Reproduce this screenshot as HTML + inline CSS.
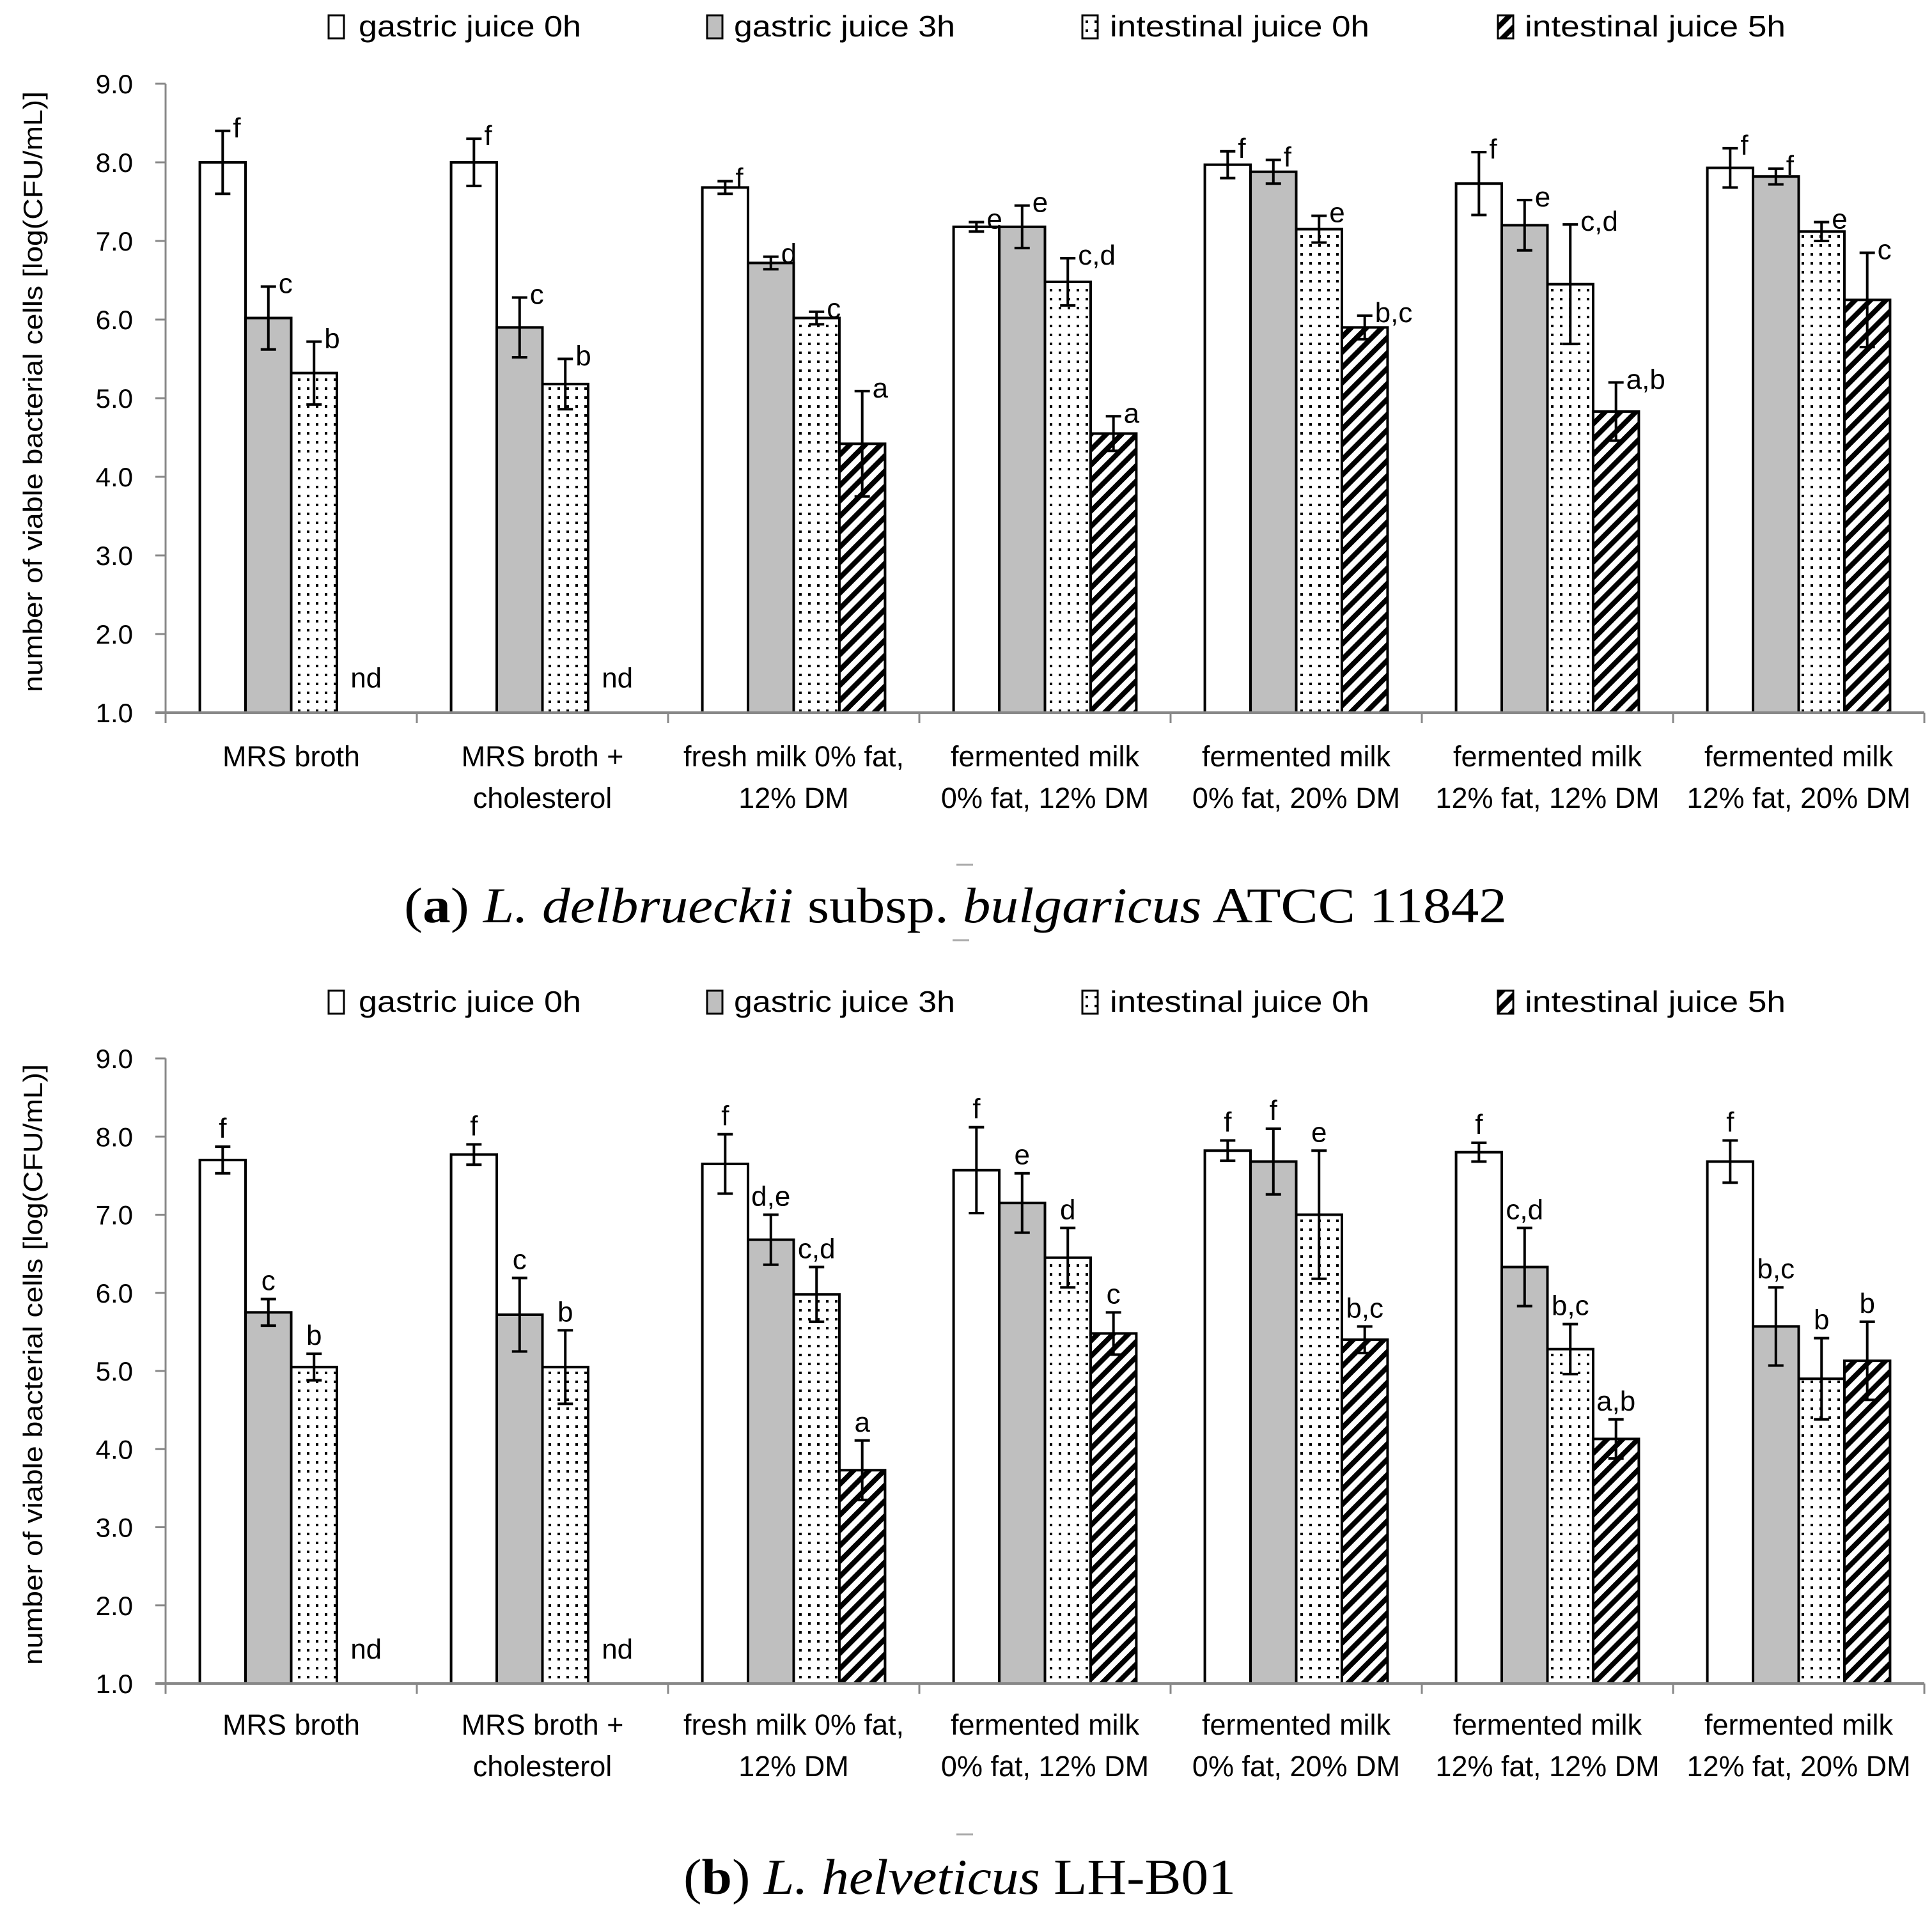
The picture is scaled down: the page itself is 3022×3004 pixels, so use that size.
<!DOCTYPE html>
<html><head><meta charset="utf-8">
<style>
html,body{margin:0;padding:0;background:#fff;}
svg{display:block;}
.nar{font-family:"Liberation Sans Narrow","Liberation Sans",sans-serif;}
</style></head>
<body>
<svg id="fig" xmlns="http://www.w3.org/2000/svg" width="3022" height="3004" viewBox="0 0 3022 3004">
<defs>
<pattern id="dots" width="14" height="14" patternUnits="userSpaceOnUse">
<rect width="14" height="14" fill="#fff"/>
<rect x="4" y="4" width="4" height="4" fill="#000"/>
</pattern>
<pattern id="hatch" width="17" height="17" patternUnits="userSpaceOnUse" patternTransform="rotate(45)">
<rect width="17" height="17" fill="#fff"/>
<rect x="0" y="0" width="8" height="17" fill="#000"/>
</pattern>
</defs>
<g id="chartA"></g>
<g id="chartB"></g>
<text x="632" y="1443" font-family="Liberation Serif, serif" font-size="78" textLength="1725" lengthAdjust="spacingAndGlyphs">(<tspan font-weight="bold">a</tspan>) <tspan font-style="italic">L. delbrueckii</tspan> subsp. <tspan font-style="italic">bulgaricus</tspan> ATCC 11842</text>
<text x="1069" y="2963" font-family="Liberation Serif, serif" font-size="78" textLength="864" lengthAdjust="spacingAndGlyphs">(<tspan font-weight="bold">b</tspan>) <tspan font-style="italic">L. helveticus</tspan> LH-B01</text>
<line x1="1496" y1="1353" x2="1522" y2="1353" stroke="#aaa" stroke-width="3"/>
<line x1="1490" y1="1471" x2="1516" y2="1471" stroke="#aaa" stroke-width="3"/>
<line x1="1496" y1="2870" x2="1522" y2="2870" stroke="#aaa" stroke-width="3"/>
</svg>
<script>
const categories = [["MRS broth",""],["MRS broth +","cholesterol"],["fresh milk 0% fat,","12% DM"],["fermented milk","0% fat, 12% DM"],["fermented milk","0% fat, 20% DM"],["fermented milk","12% fat, 12% DM"],["fermented milk","12% fat, 20% DM"]];
const seriesNames = ["gastric juice 0h","gastric juice 3h","intestinal juice 0h","intestinal juice 5h"];
const yTicks = [1,2,3,4,5,6,7,8,9];
// Chart A values (null = nd)
const aG0 = [8.0,8.0,7.68,7.18,7.97,7.73,7.93];
const aG3 = [6.02,5.9,6.72,7.18,7.88,7.2,7.82];
const aI0 = [5.32,5.18,6.02,6.48,7.15,6.45,7.12];
const aI5 = [null,null,4.42,4.55,5.9,4.83,6.25];
const aErrG0 = [0.4,0.3,0.08,0.06,0.17,0.4,0.25];
const aErrG3 = [0.4,0.38,0.08,0.27,0.15,0.32,0.1];
const aErrI0 = [0.4,0.32,0.08,0.3,0.17,0.76,0.12];
const aErrI5 = [0,0,0.67,0.22,0.15,0.37,0.6];
const aLabG0 = ["f","f","f","e","f","f","f"];
const aLabG3 = ["c","c","d","e","f","e","f"];
const aLabI0 = ["b","b","c","c,d","e","c,d","e"];
const aLabI5 = ["nd","nd","a","a","b,c","a,b","c"];
// Chart B values
const bG0 = [7.7,7.77,7.65,7.57,7.82,7.8,7.68];
const bG3 = [5.75,5.72,6.68,7.15,7.68,6.33,5.57];
const bI0 = [5.05,5.05,5.98,6.45,7.0,5.28,4.9];
const bI5 = [null,null,3.73,5.48,5.4,4.13,5.13];
const bErrG0 = [0.17,0.13,0.38,0.55,0.13,0.12,0.27];
const bErrG3 = [0.17,0.47,0.32,0.38,0.42,0.5,0.5];
const bErrI0 = [0.17,0.47,0.35,0.38,0.82,0.32,0.52];
const bErrI5 = [0,0,0.38,0.27,0.17,0.25,0.5];
const bLabG0 = ["f","f","f","f","f","f","f"];
const bLabG3 = ["c","c","d,e","e","f","c,d","b,c"];
const bLabI0 = ["b","b","c,d","d","e","b,c","b"];
const bLabI5 = ["nd","nd","a","c","b,c","a,b","b"];

const NS="http://www.w3.org/2000/svg";
function mk(tag, attrs, parent){const e=document.createElementNS(NS,tag);for(const k in attrs)e.setAttribute(k,attrs[k]);parent.appendChild(e);return e;}

function drawChart(g, cfg, vals, errs, labs, labelMode){
  const x0=259, x1=3010, catW=(x1-x0)/categories.length, barW=catW/5.5, gap=barW*0.75;
  const yScale=v=>cfg.yBottom-(v-1)*(cfg.yBottom-cfg.yTop)/8;
  const fills=["#fff","#bfbfbf","url(#dots)","url(#hatch)"];
  const legX=[514,1106,1693,2343], legT=[561,1148,1736,2385], legW=[348,346,406,408];
  seriesNames.forEach((n,i)=>{
    const r=mk('rect',{x:legX[i],y:cfg.legY-18,width:24,height:36,fill:fills[i],stroke:"#000","stroke-width":3},g);
    
    
    const t=mk('text',{x:legT[i],y:cfg.legY+15,"font-size":46,class:"nar",textLength:legW[i],lengthAdjust:"spacingAndGlyphs"},g);
    t.textContent=n;
    
    
  });
  const ax=mk('line',{x1:x0,y1:cfg.yTop,x2:x0,y2:cfg.yBottom+16,stroke:"#888","stroke-width":3},g);
  
  
  yTicks.forEach(v=>{
    const y=yScale(v);
    mk('line',{x1:x0-16,y1:y,x2:x0,y2:y,stroke:"#888","stroke-width":3},g);
    const t=mk('text',{x:208,y:y+15,"font-size":42,"text-anchor":"end",class:"nar"},g);
    t.textContent=v.toFixed(1);
    
    
  });
  const yt=mk('text',{x:0,y:0,"font-size":42,"text-anchor":"middle","font-family":"Liberation Sans, sans-serif",textLength:940,lengthAdjust:"spacingAndGlyphs",transform:`translate(66,${(cfg.yTop+cfg.yBottom)/2-10}) rotate(-90)`},g);
  yt.textContent="number of viable bacterial cells [log(CFU/mL)]";
  
  
  categories.forEach((c,ci)=>{
    const cx0=x0+ci*catW;
    for(let s=0;s<4;s++){
      const v=vals[s][ci];
      const bx=cx0+gap+s*barW, bc=bx+barW/2;
      if(v===null){
        const t=mk('text',{x:bc+10,y:yScale(1.5)+22,"font-size":44,"text-anchor":"middle",class:"nar"},g);
        t.textContent="nd";
        
        
        continue;
      }
      const yv=yScale(v);
      const r=mk('rect',{x:bx,y:yv,width:barW,height:cfg.yBottom-yv,fill:fills[s],stroke:"#000","stroke-width":4},g);
      
      
      const e=errs[s][ci], yt1=yScale(v+e), yb1=yScale(v-e);
      mk('line',{x1:bc,y1:yt1,x2:bc,y2:yb1,stroke:"#000","stroke-width":4},g);
      mk('line',{x1:bc-12,y1:yt1,x2:bc+12,y2:yt1,stroke:"#000","stroke-width":4},g);
      mk('line',{x1:bc-12,y1:yb1,x2:bc+12,y2:yb1,stroke:"#000","stroke-width":4},g);
      let lt;
      if(labelMode==="right") lt=mk('text',{x:bc+16,y:yt1+10,"font-size":44,class:"nar"},g);
      else lt=mk('text',{x:bc,y:yt1-14,"font-size":44,"text-anchor":"middle",class:"nar"},g);
      lt.textContent=labs[s][ci];
      
      
    }
    mk('line',{x1:cx0+catW,y1:cfg.yBottom,x2:cx0+catW,y2:cfg.yBottom+16,stroke:"#888","stroke-width":3},g);
    const l1=mk('text',{x:cx0+catW/2,y:cfg.catY,"font-size":45,"text-anchor":"middle",class:"nar"},g);
    l1.textContent=c[0];
    
    
    if(c[1]){
      const l2=mk('text',{x:cx0+catW/2,y:cfg.catY+65,"font-size":45,"text-anchor":"middle",class:"nar"},g);
      l2.textContent=c[1];
      
      
    }
  });
  const xa=mk('line',{x1:x0-16,y1:cfg.yBottom,x2:x1,y2:cfg.yBottom,stroke:"#888","stroke-width":4},g);
  
  
}
drawChart(document.getElementById('chartA'),{yTop:131,yBottom:1115,legY:42,catY:1199},
  [aG0,aG3,aI0,aI5],[aErrG0,aErrG3,aErrI0,aErrI5],[aLabG0,aLabG3,aLabI0,aLabI5],"right");
drawChart(document.getElementById('chartB'),{yTop:1656,yBottom:2634,legY:1568,catY:2714},
  [bG0,bG3,bI0,bI5],[bErrG0,bErrG3,bErrI0,bErrI5],[bLabG0,bLabG3,bLabI0,bLabI5],"above");
</script>
</body></html>
